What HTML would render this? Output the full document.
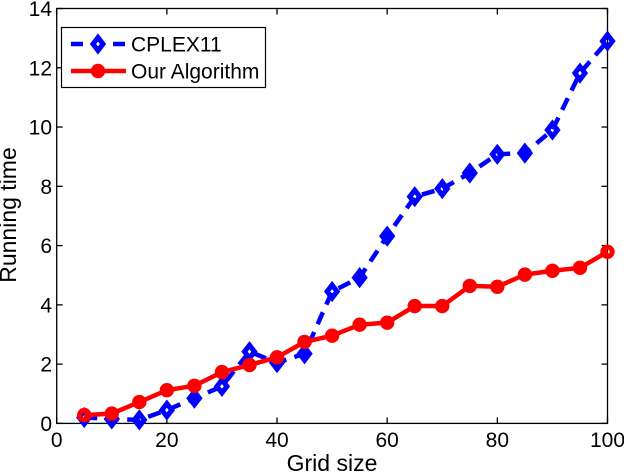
<!DOCTYPE html>
<html lang="en">
<head>
<meta charset="utf-8">
<title>Running time vs Grid size</title>
<style>
html,body{margin:0;padding:0;background:#fff;width:624px;height:472px;overflow:hidden}
svg{display:block}
text{font-family:"Liberation Sans",sans-serif;fill:#000}
</style>
</head>
<body>
<svg id="chart" xmlns="http://www.w3.org/2000/svg" width="624" height="472" viewBox="0 0 624 472"></svg>
<script>
const gridSizes = [5,10,15,20,25,30,35,40,45,50,55,60,65,70,75,80,85,90,95,100];
const cplexTimes = [0.2,0.15,0.12,0.45,0.85,1.25,2.42,2.05,2.35,4.45,4.92,6.32,7.65,7.92,8.45,9.08,9.12,9.9,11.82,12.9];
const ourTimes = [0.28,0.33,0.72,1.12,1.27,1.73,1.97,2.23,2.75,2.96,3.33,3.4,3.96,3.96,4.64,4.61,5.02,5.15,5.25,5.79];
const xTicks = [0,20,40,60,80,100];
const yTicks = [0,2,4,6,8,10,12,14];
const xDomain = [0,100];
const yDomain = [0,14];

const plotLeft = 56.7, plotRight = 607.5, plotTop = 8.5, plotBottom = 423.4;
const svg = document.getElementById('chart');
const NS = 'http://www.w3.org/2000/svg';
function xScale(v){ return plotLeft + (v - xDomain[0]) / (xDomain[1] - xDomain[0]) * (plotRight - plotLeft); }
function yScale(v){ return plotBottom - (v - yDomain[0]) / (yDomain[1] - yDomain[0]) * (plotBottom - plotTop); }
function make(tag, attrs, parent){
  const el = document.createElementNS(NS, tag);
  for (const k in attrs) el.setAttribute(k, attrs[k]);
  (parent || svg).appendChild(el);
  return el;
}
function diamond(cx, cy){
  return (cx) + ',' + (cy - 6.5) + ' ' + (cx + 5) + ',' + cy + ' ' + cx + ',' + (cy + 6.5) + ' ' + (cx - 5) + ',' + cy;
}
const linePts = (ys) => gridSizes.map((g, i) => xScale(g) + ',' + yScale(ys[i])).join(' ');

// axes box
const frame = make('rect', {x:plotLeft, y:plotTop, width:plotRight-plotLeft, height:plotBottom-plotTop, fill:'none', stroke:'#000', 'stroke-width':1.3});



// ticks and tick labels
xTicks.forEach((t) => {
  const x = xScale(t);
  const a = make('line', {x1:x, x2:x, y1:plotBottom, y2:plotBottom-6, stroke:'#000', 'stroke-width':1.3});
  
  
  const b = make('line', {x1:x, x2:x, y1:plotTop, y2:plotTop+6, stroke:'#000', 'stroke-width':1.3});
  
  
  const l = make('text', {x:x, y:447, 'text-anchor':'middle', 'font-size':21});
  
  
  l.textContent = t;
});
yTicks.forEach((t) => {
  const y = yScale(t);
  const a = make('line', {x1:plotLeft, x2:plotLeft+6, y1:y, y2:y, stroke:'#000', 'stroke-width':1.3});
  
  
  const b = make('line', {x1:plotRight, x2:plotRight-6, y1:y, y2:y, stroke:'#000', 'stroke-width':1.3});
  
  
  const l = make('text', {x:52, y:y+7.5, 'text-anchor':'end', 'font-size':21});
  
  
  l.textContent = t;
});

// CPLEX11 series
const blueLine = make('polyline', {points:linePts(cplexTimes), fill:'none', stroke:'#0000ff', 'stroke-width':4.5, 'stroke-dasharray':'13 8.5'});


gridSizes.forEach((g, i) => {
  const m = make('polygon', {points:diamond(xScale(g), yScale(cplexTimes[i])), fill:'none', stroke:'#0000ff', 'stroke-width':5});
  
  
});

// Our Algorithm series
const redLine = make('polyline', {points:linePts(ourTimes), fill:'none', stroke:'#ff0000', 'stroke-width':4.5});


gridSizes.forEach((g, i) => {
  const m = make('circle', {cx:xScale(g), cy:yScale(ourTimes[i]), r:4.7, fill:'none', stroke:'#ff0000', 'stroke-width':5});
  
  
});

// axis titles
const xTitle = make('text', {x:332, y:471, 'text-anchor':'middle', 'font-size':23});


xTitle.textContent = 'Grid size';
const yTitle = make('text', {x:0, y:0, 'text-anchor':'middle', 'font-size':23, transform:'translate(16,215) rotate(-90)'});


yTitle.textContent = 'Running time';

// legend
const legend = make('g', {});


const legendBox = make('rect', {x:61.5, y:27.5, width:204, height:60, fill:'#fff', stroke:'#000', 'stroke-width':1.2}, legend);


const legendBlue = make('line', {x1:71, x2:125, y1:44, y2:44, stroke:'#0000ff', 'stroke-width':4.5, 'stroke-dasharray':'12 30 12'}, legend);


const legendDiamond = make('polygon', {points:diamond(98, 44), fill:'none', stroke:'#0000ff', 'stroke-width':5}, legend);


const legendBlueText = make('text', {x:131, y:51.5, 'font-size':21}, legend);


legendBlueText.textContent = 'CPLEX11';
const legendRed = make('line', {x1:71, x2:126, y1:71, y2:71, stroke:'#ff0000', 'stroke-width':4.5}, legend);


const legendCircle = make('circle', {cx:98, cy:71, r:4.7, fill:'none', stroke:'#ff0000', 'stroke-width':5}, legend);


const legendRedText = make('text', {x:131, y:78.5, 'font-size':21}, legend);


legendRedText.textContent = 'Our Algorithm';
</script>
</body>
</html>
